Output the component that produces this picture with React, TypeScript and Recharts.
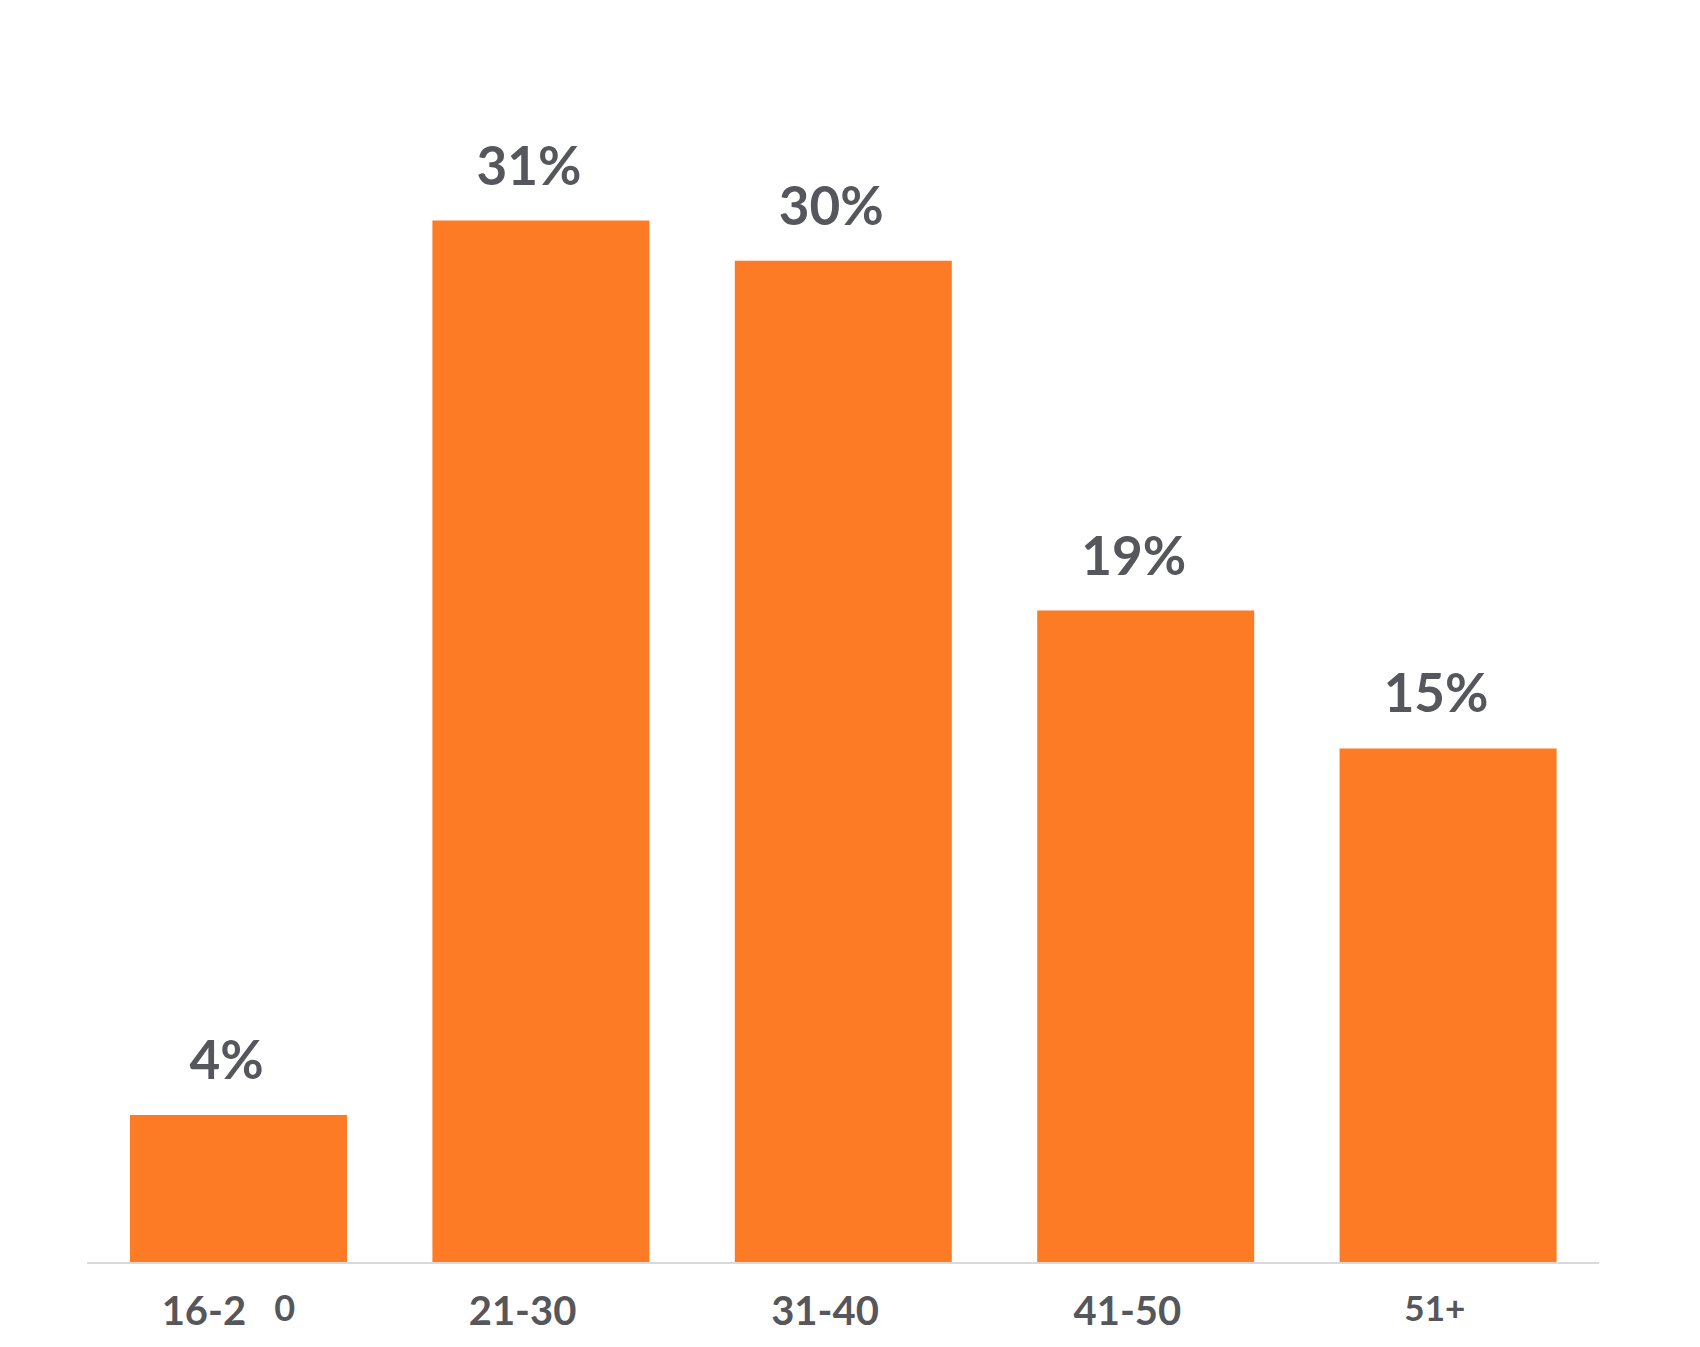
import { Bar, BarChart, XAxis, YAxis, LabelList } from "recharts"

const categories = ["16-20", "21-30", "31-40", "41-50", "51+"]
const shares = [4.4, 31.0, 29.8, 19.4, 15.3]
const shareLabels = ["4%", "31%", "30%", "19%", "15%"]

const data = categories.map((c, i) => ({ age: c, share: shares[i], label: shareLabels[i] }))

const TEXT = "#56575c"
const FONT = "Lato, 'Open Sans', sans-serif"

function AgeTick(props: any) {
  const { x, y, payload } = props
  const v: string = payload.value
  if (v === "16-20") {
    // the source draws this one split apart
    return (
      <g>
        <text x={x + 8} y={y + 62} textAnchor="end" fill={TEXT} fontSize={40} fontWeight={700} fontFamily={FONT}>16-2</text>
        <text x={x + 36} y={y + 58} textAnchor="start" fill={TEXT} fontSize={36} fontWeight={700} fontFamily={FONT}>0</text>
      </g>
    )
  }
  const small = v === "51+"
  return (
    <text x={x - (small ? 13 : 18)} y={y + (small ? 58 : 62)} textAnchor="middle" fill={TEXT} fontSize={small ? 35 : 40} fontWeight={700} fontFamily={FONT}>
      {v}
    </text>
  )
}

function ValueLabel(props: any) {
  const { x, y, width, value } = props
  return (
    <text x={x + width / 2 - 12} y={y - 36} textAnchor="middle" fill={TEXT} fontSize={53} fontWeight={700} fontFamily={FONT}>
      {value}
    </text>
  )
}

export default function App() {
  return (
    <div style={{ width: 1700, height: 1347, background: "#fff" }}>
      <style>{`body{margin:0}`}</style>
      <BarChart
        width={1700}
        height={1347}
        data={data}
        margin={{ top: 86, right: 101, left: 87, bottom: 14 }}
      >
        <XAxis
          dataKey="age"
          height={70}
          tickLine={false}
          tickSize={0}
          tickMargin={0}
          interval={0}
          stroke="#d9d9d9"
          strokeWidth={2}
          tick={<AgeTick />}
        />
        <YAxis hide domain={[0, 35]} />
        <Bar dataKey="share" fill="#fd7b24" barSize={217} isAnimationActive={false}>
          <LabelList dataKey="label" content={<ValueLabel />} />
        </Bar>
      </BarChart>
    </div>
  )
}
